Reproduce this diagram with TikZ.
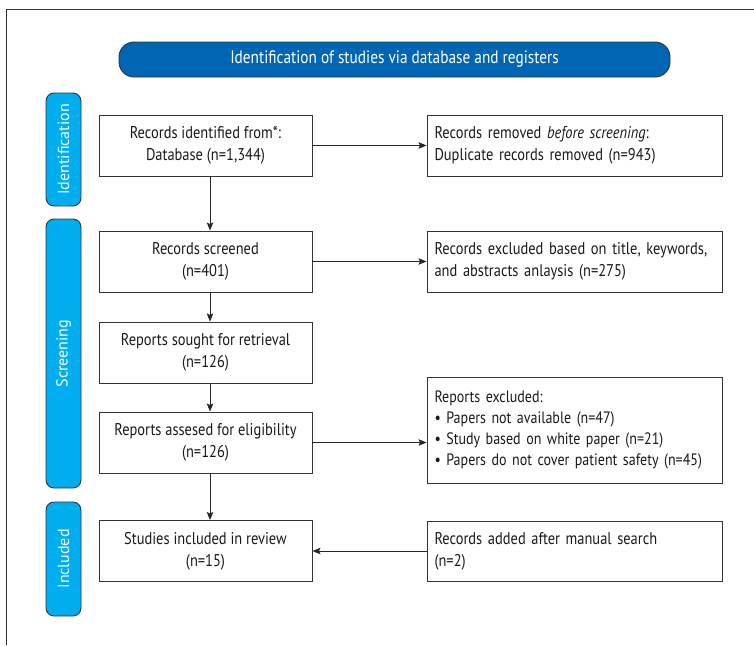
\documentclass[tikz,border=0pt]{standalone}
\usepackage{fontspec}
\setmainfont{PT Sans}
\newfontfamily\condfont[FakeStretch=0.85]{PT Sans}
\usetikzlibrary{arrows.meta}
\definecolor{titleblue}{HTML}{0066B3}
\definecolor{phaseblue}{HTML}{00AEEF}
\definecolor{edgegray}{HTML}{333333}

\begin{document}
\begin{tikzpicture}[
  x=1pt, y=-1pt,
  box/.style={draw=edgegray, line width=0.9pt, minimum width=213pt,
              minimum height=61pt, inner sep=0pt, align=center,
              text=black!90, font=\condfont\fontsize{17}{22}\selectfont},
  sidebox/.style={box, minimum width=295pt, text width=280pt, align=left},
  phase/.style={draw=edgegray, line width=0.9pt, fill=phaseblue, rounded corners=8pt,
                rotate=90, minimum height=35pt, text=white,
                font=\fontsize{16}{18}\selectfont},
  arrow/.style={-{Stealth[length=8pt, width=6.5pt, inset=1.5pt]}, line width=0.9pt, black!85}
]
  \useasboundingbox (0,0) rectangle (754,645);
  \draw[edgegray, line width=0.8pt] (6,645) -- (6,9) -- (754,9);
  % title bar
  \node[draw=edgegray, line width=0.9pt, fill=titleblue, rounded corners=15pt,
        minimum width=551pt, minimum height=35pt, text=white,
        font=\condfont\fontsize{18}{18}\selectfont] (title) at (394.5,59.5)
        {Identification of studies via database and registers};
  % phases
  \node[phase, minimum width=113pt] (phid)  at (63.5,149.5) {Identification};
  \node[phase, minimum width=269pt] (phscr) at (63.5,353.5) {Screening};
  \node[phase, minimum width=114pt] (phinc) at (63.5,559)   {Included};
  % main column
  \node[box] (identified) at (205.5,145.5) {Records identified from*:\\Database (n=1,344)};
  \node[box] (screened)   at (205.5,261.5) {Records screened\\(n=401)};
  \node[box] (sought)     at (205.5,352.5) {Reports sought for retrieval\\(n=126)};
  \node[box] (assessed)   at (205.5,442.5) {Reports assesed for eligibility\\(n=126)};
  \node[box] (included)   at (205.5,551)   {Studies included in review\\(n=15)};
  % side column
  \node[sidebox] (removed)  at (574.5,145.5) {Records removed \textit{before screening}:\\Duplicate records removed (n=943)};
  \node[sidebox] (excluded) at (574.5,261.5) {Records excluded based on title, keywords,\\and abstracts anlaysis (n=275)};
  \node[sidebox, minimum height=106pt, font=\condfont\fontsize{16.5}{21}\selectfont] (repexcl) at (574.5,430)
        {Reports excluded:\\• Papers not available (n=47)\\• Study based on white paper (n=21)\\• Papers do not cover patient safety (n=45)};
  \node[sidebox, minimum height=60pt] (added) at (574.5,551) {Records added after manual search\\(n=2)};
  % arrows
  \draw[arrow] ([xshift=4.5pt]identified.south) -- ([xshift=4.5pt]screened.north);
  \draw[arrow] ([xshift=4.5pt]screened.south) -- ([xshift=4.5pt]sought.north);
  \draw[arrow] ([xshift=4.5pt]sought.south) -- ([xshift=4.5pt]assessed.north);
  \draw[arrow] ([xshift=4.5pt]assessed.south) -- ([xshift=4.5pt]included.north);
  \draw[arrow] (identified) -- (removed);
  \draw[arrow] (screened) -- (excluded);
  \draw[arrow] (assessed) -- (assessed -| repexcl.west);
  \draw[arrow] (added) -- (included);
\end{tikzpicture}
\end{document}
